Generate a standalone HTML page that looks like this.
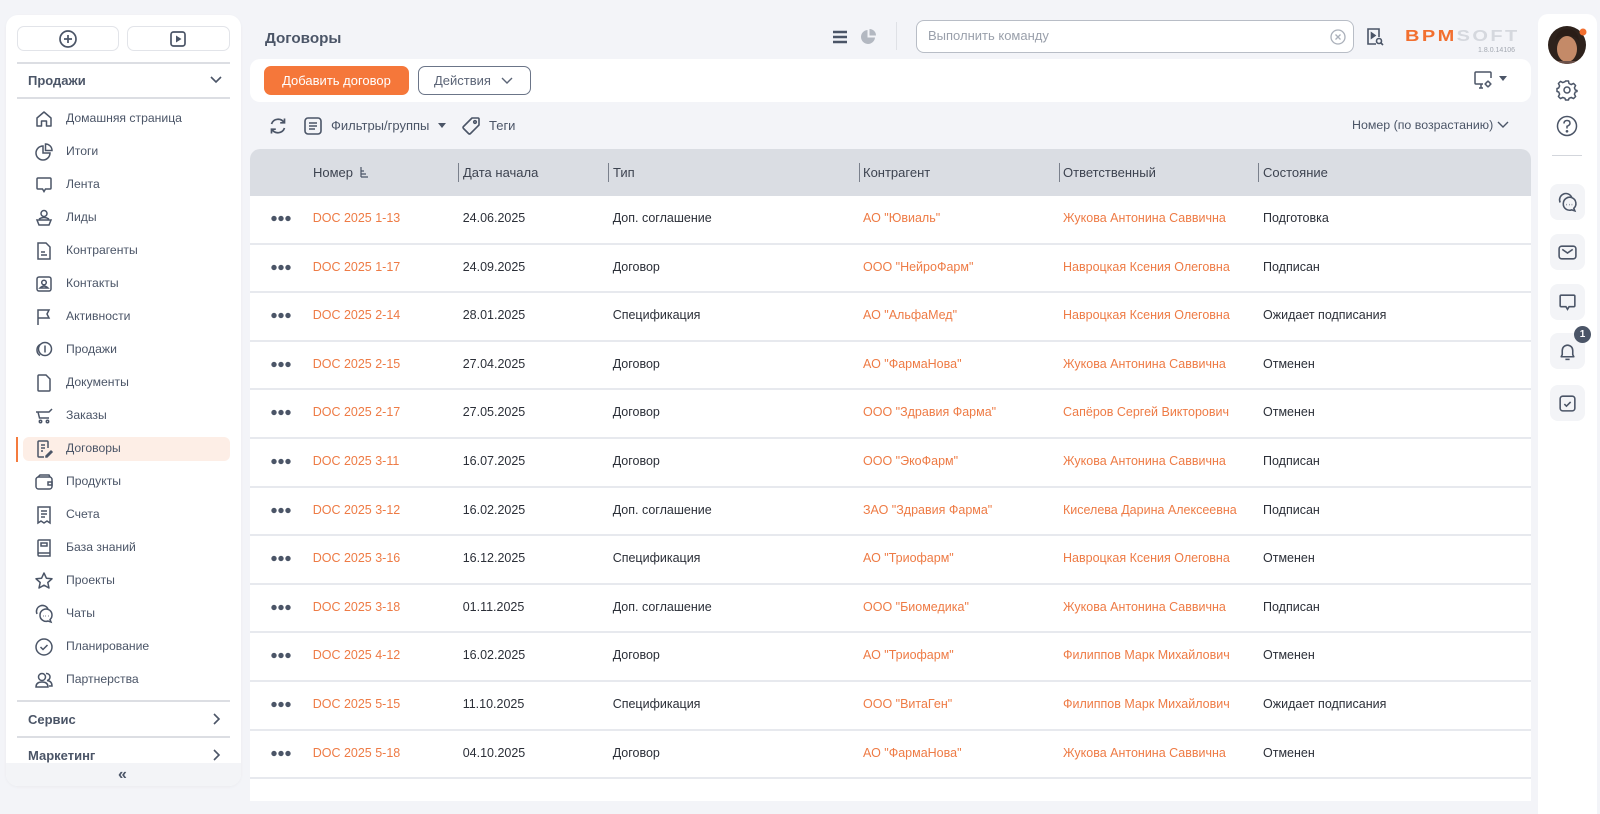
<!DOCTYPE html>
<html><head><meta charset="utf-8">
<style>
*{box-sizing:border-box;margin:0;padding:0}
body{width:1600px;height:801px;overflow:hidden;background:#f3f4f8;font-family:"Liberation Sans","Noto Sans CJK SC",sans-serif;color:#4b5567;position:relative}
.abs{position:absolute}
.card{position:absolute;background:#fff}
.mi{position:absolute;left:0;width:241px;height:24px}
.mi svg{position:absolute;left:34px;top:2px}
.mi span{position:absolute;left:66px;top:4px;font-size:12.2px;color:#4b5567;white-space:nowrap}
.sec{position:absolute;left:28px;font-size:13px;font-weight:bold;color:#4b5567}
.hl{position:absolute;left:17px;width:213px;height:2px;background:#dcdee3}
.row{position:absolute;left:250px;width:1281px;height:48.6px;background:#fff;border-bottom:2px solid #e7e9ee}
.row div{position:absolute;top:0;line-height:45px;font-size:12.5px;white-space:nowrap;color:#2b2f38}
.row .o{color:#ee7b45}
.row .d{left:21px;top:19px;width:20px;height:7px;background:radial-gradient(circle at 3px 3.5px,#4b5567 2.4px,transparent 2.9px),radial-gradient(circle at 10px 3.5px,#4b5567 2.4px,transparent 2.9px),radial-gradient(circle at 17px 3.5px,#4b5567 2.4px,transparent 2.9px)}
.c1{left:62.7px}.c2{left:212.7px}.c3{left:362.7px}.c4{left:613px}.c5{left:813px}.c6{left:1013px}
.th{position:absolute;top:149px;font-size:13px;color:#3d4350;line-height:47px}
.sep{position:absolute;top:163px;width:1px;height:19px;background:#7a808c}
.rb{position:absolute;left:1550px;width:35px;height:36px;border-radius:8px;background:#f3f4f7}
.rb svg{position:absolute;left:7px;top:8px}
</style></head><body>

<!-- LEFT SIDEBAR -->
<div class="card" style="left:6px;top:15px;width:235px;height:771px;border-radius:12px;box-shadow:0 1px 3px rgba(0,0,0,0.04);overflow:hidden">
  <div class="abs" style="left:0;top:748px;width:235px;height:23px;background:#f3f4f7"></div>
  <div class="abs" style="left:112px;top:751px;font-size:16px;font-weight:bold;color:#4b5567">«</div>
</div>
<div class="abs" style="left:17px;top:26px;width:102px;height:25px;border:1px solid #e2e4e9;border-radius:7px;background:#fff"></div>
<div class="abs" style="left:127px;top:26px;width:103px;height:25px;border:1px solid #e2e4e9;border-radius:7px;background:#fff"></div>
<svg class="abs" style="left:58px;top:29px" width="20" height="20" viewBox="0 0 20 20"><circle cx="10" cy="10" r="8" fill="none" stroke="#4b5567" stroke-width="1.7"/><path d="M10 6V14M6 10H14" stroke="#4b5567" stroke-width="1.7"/></svg>
<svg class="abs" style="left:168px;top:29px" width="20" height="20" viewBox="0 0 20 20"><rect x="3" y="3" width="14" height="14" rx="2.5" fill="none" stroke="#4b5567" stroke-width="1.7"/><path d="M8 6.5L13.5 10L8 13.5Z" fill="#4b5567"/></svg>
<div class="hl" style="top:62px"></div>
<div class="sec" style="top:73px">Продажи</div>
<svg class="abs" style="left:209px;top:74px" width="14" height="12" viewBox="0 0 14 12"><path d="M2 3L7 8L12 3" fill="none" stroke="#4b5567" stroke-width="1.6"/></svg>
<div class="hl" style="top:97px"></div>

<div class="abs" style="left:23px;top:437px;width:207px;height:24px;border-radius:6px;background:#fdeee6"></div>
<div class="abs" style="left:16px;top:437px;width:2px;height:25px;background:#f47b3e"></div>

<div class="mi" style="top:107px"><svg width="20" height="20" viewBox="0 0 20 20" fill="none" stroke="#4b5567" stroke-width="1.5"><path d="M3 9L10 3L17 9V17H12.5V12H7.5V17H3Z" stroke-linejoin="round"/></svg><span>Домашняя страница</span></div>
<div class="mi" style="top:140px"><svg width="20" height="20" viewBox="0 0 20 20" fill="none" stroke="#4b5567" stroke-width="1.5"><path d="M9 4A7 7 0 1 0 16 11H9Z"/><path d="M11.5 2V8.5H18A6.5 6.5 0 0 0 11.5 2Z"/></svg><span>Итоги</span></div>
<div class="mi" style="top:173px"><svg width="20" height="20" viewBox="0 0 20 20" fill="none" stroke="#4b5567" stroke-width="1.5"><path d="M4 3H16Q17 3 17 4V13Q17 14 16 14H11.5L10 16.5L8.5 14H4Q3 14 3 13V4Q3 3 4 3Z"/></svg><span>Лента</span></div>
<div class="mi" style="top:206px"><svg width="20" height="20" viewBox="0 0 20 20" fill="none" stroke="#4b5567" stroke-width="1.5"><circle cx="10" cy="5.5" r="3"/><path d="M5 11Q10 8 15 11M3 12H17L15 17H5Z"/></svg><span>Лиды</span></div>
<div class="mi" style="top:239px"><svg width="20" height="20" viewBox="0 0 20 20" fill="none" stroke="#4b5567" stroke-width="1.5"><path d="M4 2H12L16 6V18H4Z"/><path d="M7 11H11M7 14H13"/></svg><span>Контрагенты</span></div>
<div class="mi" style="top:272px"><svg width="20" height="20" viewBox="0 0 20 20" fill="none" stroke="#4b5567" stroke-width="1.5"><rect x="3" y="3" width="14" height="14" rx="2"/><circle cx="10" cy="8.5" r="2.3"/><path d="M6 14Q10 10 14 14Z"/></svg><span>Контакты</span></div>
<div class="mi" style="top:305px"><svg width="20" height="20" viewBox="0 0 20 20" fill="none" stroke="#4b5567" stroke-width="1.5"><path d="M4 18V3H15L13 7L15 11H4"/></svg><span>Активности</span></div>
<div class="mi" style="top:338px"><svg width="20" height="20" viewBox="0 0 20 20" fill="none" stroke="#4b5567" stroke-width="1.5"><circle cx="11" cy="9" r="6.5"/><path d="M6 4.5A6.5 6.5 0 0 0 6 15.5M11 5.5V12.5"/></svg><span>Продажи</span></div>
<div class="mi" style="top:371px"><svg width="20" height="20" viewBox="0 0 20 20" fill="none" stroke="#4b5567" stroke-width="1.5"><path d="M5 2H12L16 6V17Q16 18 15 18H5Q4 18 4 17V3Q4 2 5 2Z"/></svg><span>Документы</span></div>
<div class="mi" style="top:404px"><svg width="20" height="20" viewBox="0 0 20 20" fill="none" stroke="#4b5567" stroke-width="1.5"><path d="M2 6H15L18 3M4 6L5.5 12H15"/><circle cx="6.5" cy="15.5" r="1.2"/><circle cx="13.5" cy="15.5" r="1.2"/></svg><span>Заказы</span></div>
<div class="mi" style="top:437px"><svg width="20" height="20" viewBox="0 0 20 20" fill="none" stroke="#4b5567" stroke-width="1.5"><path d="M14 9V3Q14 2 13 2H5Q4 2 4 3V17Q4 18 5 18H10"/><path d="M7 6H11M7 9H11M7 12H9M12 17L17 12L18 13L13 18H12Z"/></svg><span>Договоры</span></div>
<div class="mi" style="top:470px"><svg width="20" height="20" viewBox="0 0 20 20" fill="none" stroke="#4b5567" stroke-width="1.5"><rect x="2" y="5" width="16" height="12" rx="2.5"/><path d="M4 5L6 3H15L16 5M14 10H18V13H14Z"/></svg><span>Продукты</span></div>
<div class="mi" style="top:503px"><svg width="20" height="20" viewBox="0 0 20 20" fill="none" stroke="#4b5567" stroke-width="1.5"><path d="M4 2H16V18L13 16L10 18L7 16L4 18Z"/><path d="M7 6H13M7 9H13M7 12H11"/></svg><span>Счета</span></div>
<div class="mi" style="top:536px"><svg width="20" height="20" viewBox="0 0 20 20" fill="none" stroke="#4b5567" stroke-width="1.5"><path d="M5 2H16V15H5Q4 15 4 16.5Q4 18 5 18H16V15M4 16.5V3Q4 2 5 2"/><path d="M7 5H13V8H7Z"/></svg><span>База знаний</span></div>
<div class="mi" style="top:569px"><svg width="20" height="20" viewBox="0 0 20 20" fill="none" stroke="#4b5567" stroke-width="1.5"><path d="M10 2L12.4 7.2L18 7.8L13.8 11.5L15 17L10 14.2L5 17L6.2 11.5L2 7.8L7.6 7.2Z" stroke-linejoin="round"/></svg><span>Проекты</span></div>
<div class="mi" style="top:602px"><svg width="20" height="20" viewBox="0 0 20 20" fill="none" stroke="#4b5567" stroke-width="1.5"><path d="M3 10A6 6 0 0 1 14 5"/><path d="M6 11A6 6 0 1 1 16 15.5L17 18L14 17A6 6 0 0 1 6 11Z"/><path d="M9 12H9.5M11.5 12H12M14 12H14.5"/></svg><span>Чаты</span></div>
<div class="mi" style="top:635px"><svg width="20" height="20" viewBox="0 0 20 20" fill="none" stroke="#4b5567" stroke-width="1.5"><circle cx="10" cy="10" r="8"/><path d="M6.5 10L9 12.5L13.5 8"/></svg><span>Планирование</span></div>
<div class="mi" style="top:668px"><svg width="20" height="20" viewBox="0 0 20 20" fill="none" stroke="#4b5567" stroke-width="1.5"><circle cx="8" cy="7" r="3.5"/><path d="M2 17Q2 12 8 12Q14 12 14 17Z"/><path d="M12 3.5A3.5 3.5 0 0 1 13 10.5Q18 11 18 16H15"/></svg><span>Партнерства</span></div>

<div class="hl" style="top:700px"></div>
<div class="sec" style="top:712px">Сервис</div>
<svg class="abs" style="left:209px;top:712px" width="14" height="14" viewBox="0 0 14 14"><path d="M5 2L10 7L5 12" fill="none" stroke="#4b5567" stroke-width="1.6"/></svg>
<div class="hl" style="top:736px"></div>
<div class="sec" style="top:748px">Маркетинг</div>
<svg class="abs" style="left:209px;top:748px" width="14" height="14" viewBox="0 0 14 14"><path d="M5 2L10 7L5 12" fill="none" stroke="#4b5567" stroke-width="1.6"/></svg>

<!-- HEADER -->
<div class="abs" style="left:265px;top:30px;font-size:15.2px;font-weight:bold;color:#4b5567">Договоры</div>
<svg class="abs" style="left:832px;top:29px" width="16" height="16" viewBox="0 0 16 16"><path d="M1 3H15M1 8H15M1 13H15" stroke="#4b5567" stroke-width="2.6"/></svg>
<svg class="abs" style="left:860px;top:28px" width="17" height="17" viewBox="0 0 17 17"><path d="M7.5 2A7 7 0 1 0 15 9.5H7.5Z" fill="#b3b8c1"/><path d="M9.5 1V7.5H16A6.5 6.5 0 0 0 9.5 1Z" fill="#b3b8c1"/></svg>
<div class="abs" style="left:896px;top:22px;width:1px;height:28px;background:#dfe1e6"></div>
<div class="abs" style="left:916px;top:20px;width:438px;height:33px;border:1px solid #b8bdc6;border-radius:8px;background:#fff"></div>
<div class="abs" style="left:928px;top:28px;font-size:13px;color:#9aa0ab">Выполнить команду</div>
<svg class="abs" style="left:1329px;top:28px" width="18" height="18" viewBox="0 0 18 18"><circle cx="9" cy="9" r="7" fill="none" stroke="#aab0ba" stroke-width="1.3"/><path d="M6.5 6.5L11.5 11.5M11.5 6.5L6.5 11.5" stroke="#aab0ba" stroke-width="1.3"/></svg>
<svg class="abs" style="left:1365px;top:27px" width="20" height="20" viewBox="0 0 20 20" fill="none" stroke="#4b5567" stroke-width="1.6"><path d="M11 17H3V2H14V10"/><path d="M6.5 6L10 8.5L6.5 11Z" fill="#4b5567"/><circle cx="14" cy="14" r="2.5"/><path d="M16 16L18 18"/></svg>
<div class="abs" style="left:1405px;top:28px;font-size:20px;font-weight:bold;letter-spacing:2.4px;line-height:20px;white-space:nowrap;transform:scaleY(0.8);transform-origin:left top"><span style="color:#f26f2f">BPM</span><span style="color:#d5d8de">SOFT</span></div>
<div class="abs" style="left:1470px;top:47px;width:45px;text-align:right;font-size:7px;color:#a3a8b1">1.8.0.14106</div>

<!-- TOOLBAR -->
<div class="card" style="left:250px;top:59px;width:1281px;height:43px;border-radius:10px"></div>
<div class="abs" style="left:264px;top:66px;width:145px;height:29px;border-radius:7px;background:#f5773a;color:#fff;font-size:13px;line-height:29px;text-align:center">Добавить договор</div>
<div class="abs" style="left:418px;top:66px;width:113px;height:29px;border-radius:7px;border:1px solid #6b7588;background:#fff;color:#5b6476;font-size:13px;line-height:27px;padding-left:15px">Действия</div>
<svg class="abs" style="left:500px;top:75px" width="14" height="12" viewBox="0 0 14 12"><path d="M2 3L7 8L12 3" fill="none" stroke="#5b6476" stroke-width="1.4"/></svg>
<svg class="abs" style="left:1473px;top:70px" width="22" height="20" viewBox="0 0 22 20" fill="none" stroke="#4b5567" stroke-width="1.5"><path d="M10 14H3Q2 14 2 13V3Q2 2 3 2H17Q18 2 18 3V8"/><path d="M6 18H10M8 14V18"/><circle cx="15" cy="14" r="2.2"/><path d="M15 10.5V11.5M15 16.5V17.5M11.5 14H12.5M17.5 14H18.5"/></svg>
<svg class="abs" style="left:1499px;top:76px" width="8" height="6" viewBox="0 0 8 6"><path d="M0 0H8L4 5Z" fill="#4b5567"/></svg>

<!-- FILTER ROW -->
<svg class="abs" style="left:268px;top:116px" width="20" height="20" viewBox="0 0 20 20" fill="none" stroke="#4b5567" stroke-width="1.7"><path d="M3.5 8A7 7 0 0 1 16 6.5M16.5 12A7 7 0 0 1 4 13.5"/><path d="M16.5 2.5V6.8H12.2M3.5 17.5V13.2H7.8"/></svg>
<svg class="abs" style="left:303px;top:116px" width="20" height="20" viewBox="0 0 20 20" fill="none" stroke="#4b5567" stroke-width="1.6"><rect x="2" y="2" width="16" height="16" rx="3"/><path d="M6 7H14M6 10H14M6 13H12"/></svg>
<div class="abs" style="left:331px;top:118px;font-size:13px;color:#4b5567">Фильтры/группы</div>
<svg class="abs" style="left:438px;top:123px" width="8" height="6" viewBox="0 0 8 6"><path d="M0 0H8L4 5Z" fill="#4b5567"/></svg>
<svg class="abs" style="left:461px;top:116px" width="20" height="20" viewBox="0 0 20 20" fill="none" stroke="#4b5567" stroke-width="1.6"><path d="M11 2H17Q18 2 18 3V9L9.5 17.5Q8.5 18.5 7.5 17.5L2.5 12.5Q1.5 11.5 2.5 10.5Z" stroke-linejoin="round"/><circle cx="14" cy="6" r="1.3"/></svg>
<div class="abs" style="left:489px;top:118px;font-size:13px;color:#4b5567">Теги</div>
<div class="abs" style="left:1352px;top:118px;font-size:12.4px;color:#4b5567;white-space:nowrap">Номер (по возрастанию)</div>
<svg class="abs" style="left:1496px;top:119px" width="14" height="12" viewBox="0 0 14 12"><path d="M2 3L7 8L12 3" fill="none" stroke="#4b5567" stroke-width="1.4"/></svg>

<!-- TABLE -->
<div class="card" style="left:250px;top:149px;width:1281px;height:652px;border-radius:10px 10px 0 0"></div>
<div class="abs" style="left:250px;top:149px;width:1281px;height:47px;border-radius:10px 10px 0 0;background:#dadde3"></div>
<div class="th" style="left:313px">Номер</div>
<svg class="abs" style="left:359px;top:166px" width="10" height="12" viewBox="0 0 10 12"><path d="M2 1V11M2 11H9M2 8H7M2 5H5" stroke="#4b5567" stroke-width="1.2" fill="none"/></svg>
<div class="sep" style="left:458px"></div><div class="th" style="left:463px">Дата начала</div>
<div class="sep" style="left:608px"></div><div class="th" style="left:613px">Тип</div>
<div class="sep" style="left:859px"></div><div class="th" style="left:863px">Контрагент</div>
<div class="sep" style="left:1059px"></div><div class="th" style="left:1063px">Ответственный</div>
<div class="sep" style="left:1258px"></div><div class="th" style="left:1263px">Состояние</div>

<div class="row" style="top:196px"><div class="d"></div><div class="c1 o">DOC 2025 1-13</div><div class="c2">24.06.2025</div><div class="c3">Доп. соглашение</div><div class="c4 o">АО "Ювиаль"</div><div class="c5 o">Жукова Антонина Саввична</div><div class="c6">Подготовка</div></div>
<div class="row" style="top:244.6px"><div class="d"></div><div class="c1 o">DOC 2025 1-17</div><div class="c2">24.09.2025</div><div class="c3">Договор</div><div class="c4 o">ООО "НейроФарм"</div><div class="c5 o">Навроцкая Ксения Олеговна</div><div class="c6">Подписан</div></div>
<div class="row" style="top:293.2px"><div class="d"></div><div class="c1 o">DOC 2025 2-14</div><div class="c2">28.01.2025</div><div class="c3">Спецификация</div><div class="c4 o">АО "АльфаМед"</div><div class="c5 o">Навроцкая Ксения Олеговна</div><div class="c6">Ожидает подписания</div></div>
<div class="row" style="top:341.8px"><div class="d"></div><div class="c1 o">DOC 2025 2-15</div><div class="c2">27.04.2025</div><div class="c3">Договор</div><div class="c4 o">АО "ФармаНова"</div><div class="c5 o">Жукова Антонина Саввична</div><div class="c6">Отменен</div></div>
<div class="row" style="top:390.4px"><div class="d"></div><div class="c1 o">DOC 2025 2-17</div><div class="c2">27.05.2025</div><div class="c3">Договор</div><div class="c4 o">ООО "Здравия Фарма"</div><div class="c5 o">Сапёров Сергей Викторович</div><div class="c6">Отменен</div></div>
<div class="row" style="top:439px"><div class="d"></div><div class="c1 o">DOC 2025 3-11</div><div class="c2">16.07.2025</div><div class="c3">Договор</div><div class="c4 o">ООО "ЭкоФарм"</div><div class="c5 o">Жукова Антонина Саввична</div><div class="c6">Подписан</div></div>
<div class="row" style="top:487.6px"><div class="d"></div><div class="c1 o">DOC 2025 3-12</div><div class="c2">16.02.2025</div><div class="c3">Доп. соглашение</div><div class="c4 o">ЗАО "Здравия Фарма"</div><div class="c5 o">Киселева Дарина Алексеевна</div><div class="c6">Подписан</div></div>
<div class="row" style="top:536.2px"><div class="d"></div><div class="c1 o">DOC 2025 3-16</div><div class="c2">16.12.2025</div><div class="c3">Спецификация</div><div class="c4 o">АО "Триофарм"</div><div class="c5 o">Навроцкая Ксения Олеговна</div><div class="c6">Отменен</div></div>
<div class="row" style="top:584.8px"><div class="d"></div><div class="c1 o">DOC 2025 3-18</div><div class="c2">01.11.2025</div><div class="c3">Доп. соглашение</div><div class="c4 o">ООО "Биомедика"</div><div class="c5 o">Жукова Антонина Саввична</div><div class="c6">Подписан</div></div>
<div class="row" style="top:633.4px"><div class="d"></div><div class="c1 o">DOC 2025 4-12</div><div class="c2">16.02.2025</div><div class="c3">Договор</div><div class="c4 o">АО "Триофарм"</div><div class="c5 o">Филиппов Марк Михайлович</div><div class="c6">Отменен</div></div>
<div class="row" style="top:682px"><div class="d"></div><div class="c1 o">DOC 2025 5-15</div><div class="c2">11.10.2025</div><div class="c3">Спецификация</div><div class="c4 o">ООО "ВитаГен"</div><div class="c5 o">Филиппов Марк Михайлович</div><div class="c6">Ожидает подписания</div></div>
<div class="row" style="top:730.6px"><div class="d"></div><div class="c1 o">DOC 2025 5-18</div><div class="c2">04.10.2025</div><div class="c3">Договор</div><div class="c4 o">АО "ФармаНова"</div><div class="c5 o">Жукова Антонина Саввична</div><div class="c6">Отменен</div></div>

<!-- RIGHT SIDEBAR -->
<div class="card" style="left:1538px;top:14px;width:59px;height:800px;border-radius:10px 10px 0 0"></div>
<svg class="abs" style="left:1547px;top:25px" width="42" height="42" viewBox="0 0 42 42">
  <defs><clipPath id="av"><circle cx="20" cy="20" r="19"/></clipPath></defs>
  <g clip-path="url(#av)">
    <rect width="42" height="42" fill="#2e221c"/>
    <ellipse cx="20" cy="24" rx="10" ry="13" fill="#c48a68"/>
    <path d="M8 16Q10 4 20 4Q31 4 32 16Q28 10 20 11Q12 10 8 16Z" fill="#2a1d17"/>
    <rect x="10" y="36" width="20" height="8" fill="#6b5048"/>
  </g>
  <circle cx="36" cy="7" r="3.5" fill="#f26f2f"/>
</svg>
<svg class="abs" style="left:1556px;top:79px" width="22" height="22" viewBox="0 0 22 22" fill="none" stroke="#4b5567" stroke-width="1.5"><circle cx="11" cy="11" r="3"/><path d="M9.5 2H12.5L13 4.5L15.2 5.6L17.5 4.4L19.6 6.5L18.4 8.8L19.3 11L21 11.5V12.5L19.3 13L18.4 15.2L19.6 17.5L17.5 19.6L15.2 18.4L13 19.3L12.5 21H9.5L9 19.3L6.8 18.4L4.5 19.6L2.4 17.5L3.6 15.2L2.7 13L1 12.5V9.5L2.7 9L3.6 6.8L2.4 4.5L4.5 2.4L6.8 3.6L9 2.7Z" stroke-linejoin="round"/></svg>
<svg class="abs" style="left:1556px;top:115px" width="22" height="22" viewBox="0 0 22 22" fill="none" stroke="#4b5567" stroke-width="1.5"><circle cx="11" cy="11" r="9.5"/><path d="M8 8.5Q8 5.5 11 5.5Q14 5.5 14 8.2Q14 10 11 11.3V13.5"/><circle cx="11" cy="16.3" r="0.6" fill="#4b5567"/></svg>
<div class="abs" style="left:1552px;top:155px;width:30px;height:1px;background:#d3d6dc"></div>
<div class="rb" style="top:184px"><svg width="21" height="21" viewBox="0 0 20 20" fill="none" stroke="#4b5567" stroke-width="1.5"><path d="M3 10A6 6 0 0 1 14 5"/><path d="M6 11A6 6 0 1 1 16 15.5L17 18L14 17A6 6 0 0 1 6 11Z"/><path d="M9 12H9.5M11.5 12H12M14 12H14.5"/></svg></div>
<div class="rb" style="top:234px"><svg width="21" height="21" viewBox="0 0 20 20" fill="none" stroke="#4b5567" stroke-width="1.5"><rect x="2" y="4" width="16" height="12" rx="2.5"/><path d="M5 7L10 10.5L15 7"/></svg></div>
<div class="rb" style="top:284px"><svg width="21" height="21" viewBox="0 0 20 20" fill="none" stroke="#4b5567" stroke-width="1.5"><path d="M4 3H16Q17 3 17 4V13Q17 14 16 14H11.5L10 16.5L8.5 14H4Q3 14 3 13V4Q3 3 4 3Z"/></svg></div>
<div class="rb" style="top:333px"><svg width="21" height="21" viewBox="0 0 20 20" fill="none" stroke="#4b5567" stroke-width="1.5"><path d="M4 15H16L15 13V9A5 5 0 0 0 5 9V13Z" stroke-linejoin="round"/><path d="M8 17.5H12"/></svg></div>
<div class="abs" style="left:1574px;top:326px;width:17px;height:17px;border-radius:50%;background:#4b5567;color:#fff;font-size:10px;font-weight:bold;text-align:center;line-height:17px">1</div>
<div class="rb" style="top:385px"><svg width="21" height="21" viewBox="0 0 20 20" fill="none" stroke="#4b5567" stroke-width="1.5"><rect x="3" y="3" width="14" height="14" rx="2.5"/><path d="M7 10.5L9 12.5L13 8.5"/></svg></div>

</body></html>
